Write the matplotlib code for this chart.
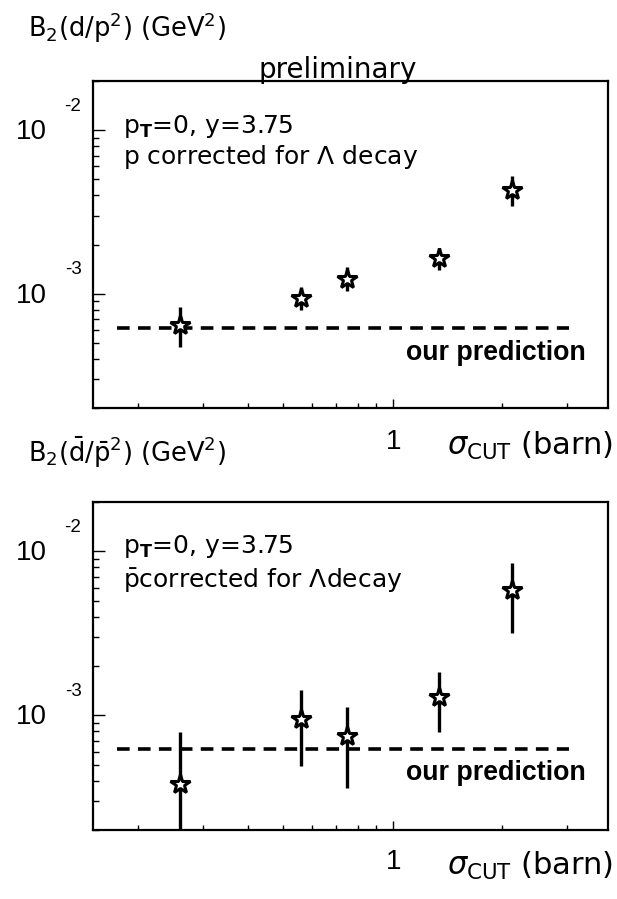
import matplotlib.pyplot as plt
import matplotlib.transforms as mtrans

# data
sigma_cut = [0.26, 0.56, 0.75, 1.34, 2.12]

b2_p = [6.40e-4, 9.46e-4, 1.23e-3, 1.65e-3, 4.33e-3]
b2_p_lo = [4.71e-4, 8.00e-4, 1.04e-3, 1.40e-3, 3.46e-3]
b2_p_hi = [8.34e-4, 1.10e-3, 1.46e-3, 1.90e-3, 5.26e-3]

b2_pbar = [3.82e-4, 9.46e-4, 7.46e-4, 1.30e-3, 5.81e-3]
b2_pbar_lo = [1.00e-4, 4.91e-4, 3.61e-4, 7.89e-4, 3.18e-3]
b2_pbar_hi = [7.89e-4, 1.42e-3, 1.13e-3, 1.85e-3, 8.45e-3]

prediction = 6.2e-4
pred_x = [0.175, 3.05]

W, H = 617, 899
rounded = 'DejaVu Sans'
helv = 'Liberation Sans'


def fx(px):
    return px / W


def fy(py):
    return 1 - py / H


fig = plt.figure(figsize=(W / 100, H / 100), dpi=100)

# axes boxes (pixels: left, top, right, bottom)
ax1 = fig.add_axes([fx(93), fy(408), fx(608) - fx(93), fy(81) - fy(408)])
ax2 = fig.add_axes([fx(93), fy(830), fx(608) - fx(93), fy(502) - fy(830)])

panels = [
    (ax1, b2_p, b2_p_lo, b2_p_hi, 0),
    (ax2, b2_pbar, b2_pbar_lo, b2_pbar_hi, 420),
]

for ax, yv, lo, hi, dy in panels:
    ax.set_xscale('log')
    ax.set_yscale('log')
    ax.set_xlim(0.15, 3.9)
    ax.set_ylim(2e-4, 2e-2)

    yerr = [[y - l for y, l in zip(yv, lo)], [h - y for y, h in zip(yv, hi)]]
    ax.errorbar(sigma_cut, yv, yerr=yerr, fmt='none', ecolor='black',
                elinewidth=2.4, capsize=0, zorder=2)
    ax.plot(sigma_cut, yv, linestyle='none', marker='*', markersize=15,
            markerfacecolor='white', markeredgecolor='black',
            markeredgewidth=2.2, zorder=3)
    ax.plot(pred_x, [prediction, prediction], color='black', lw=2.6,
            linestyle=(0, (3.5, 2.3)), zorder=1)

    for s in ax.spines.values():
        s.set_linewidth(1.6)
    ax.tick_params(which='both', direction='in', top=False, right=False,
                   labelleft=False, labelbottom=False, width=1.0)
    ax.tick_params(axis='y', which='major', length=8.5)
    ax.tick_params(axis='y', which='minor', length=4.3)
    ax.tick_params(axis='x', which='major', length=6.5)
    ax.tick_params(axis='x', which='minor', length=3.6)

    # y labels in "10^-n" style
    base = mtrans.blended_transform_factory(fig.transFigure, ax.transData)
    for e in (-2, -3):
        t1 = mtrans.offset_copy(base, fig=fig, x=0, y=-2, units='dots')
        ax.text(fx(31), 10.0 ** e, '10', transform=t1, ha='center',
                va='center', fontsize=20, family=helv)
        t2 = mtrans.offset_copy(base, fig=fig, x=0, y=24, units='dots')
        ax.text(fx(73), 10.0 ** e, '%d' % e, transform=t2, ha='center',
                va='center', fontsize=13.5, family=helv)

    # x labels
    fig.text(fx(394), fy(442 + dy), '1', ha='center', va='center',
             fontsize=20, family=helv)
    fig.text(fx(447), fy(446 + dy), r'$\sigma_{\mathrm{CUT}}$ (barn)',
             ha='left', va='center', fontsize=22, family=rounded)

    fig.text(fx(406), fy(353 + dy), 'our prediction', ha='left', va='center',
             fontsize=19.3, family=helv, weight='bold')
    fig.text(fx(123), fy(126 + dy), r'p$_{\mathbf{T}}$=0, y=3.75', ha='left',
             va='center', fontsize=18, family=rounded)

fig.text(fx(123), fy(157), r'p corrected for $\Lambda$ decay', ha='left',
         va='center', fontsize=18, family=rounded)
fig.text(fx(123), fy(581), r'$\bar{\mathrm{p}}$corrected for $\Lambda$decay',
         ha='left', va='center', fontsize=18, family=rounded)

fig.text(fx(28), fy(28), r'B$_2$(d/p$^2$) (GeV$^2$)', ha='left',
         va='center', fontsize=18.5, family=rounded)
fig.text(fx(28), fy(452), r'B$_2$($\bar{\mathrm{d}}$/$\bar{\mathrm{p}}^2$) (GeV$^2$)',
         ha='left', va='center', fontsize=18.5, family=rounded)
fig.text(fx(338), fy(70), 'preliminary', ha='center', va='center',
         fontsize=20, family=rounded)

fig.savefig('out.png', dpi=100)
